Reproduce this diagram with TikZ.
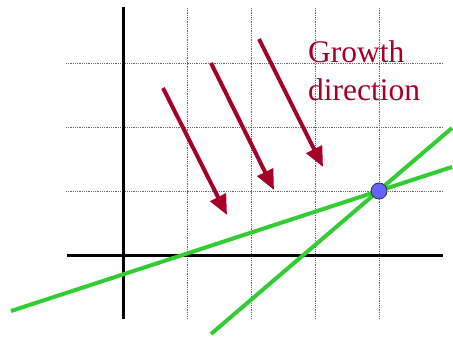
\documentclass[tikz,border=0pt]{standalone}
\usepackage{fontspec}
\setmainfont{Liberation Serif}
\usetikzlibrary{arrows.meta}
\definecolor{dred}{RGB}{166,0,38}
\definecolor{lgreen}{RGB}{50,205,50}
\definecolor{dotblue}{RGB}{100,100,255}
\tikzset{
  axis/.style={line width=3pt,black},
  gridl/.style={line width=0.8pt,densely dotted,gray!80!black},
  gline/.style={line width=4pt,lgreen},
  garrow/.style={line width=4pt,dred,-{Triangle[length=20pt,width=17pt]}},
}
\begin{document}
\begin{tikzpicture}[x=1pt,y=-1pt]
\useasboundingbox (0,0) rectangle (453,337);
% grid
\foreach \x in {187,251,315,379} \draw[gridl] (\x,8) -- (\x,318);
\foreach \y in {63,127,191} \draw[gridl] (66,\y) -- (443,\y);
% axes
\draw[axis] (123,7) -- (123,319);
\draw[axis] (67,255) -- (443,255);
% green lines
\coordinate (p) at (379,191);
\coordinate (a1) at (11,311);
\coordinate (a2) at (452,167);
\coordinate (b1) at (211,334);
\coordinate (b2) at (452,128);
\draw[gline] (a1) -- (a2);
\draw[gline] (b1) -- (b2);
\node[circle,draw=black!80,line width=0.8pt,fill=dotblue,minimum size=16pt,inner sep=0pt] (pt) at (p) {};
% arrows
\coordinate (s1) at (163,88);  \coordinate (e1) at (227,215);
\coordinate (s2) at (211,63);  \coordinate (e2) at (274,190);
\coordinate (s3) at (259,39);  \coordinate (e3) at (323,167);
\draw[garrow] (s1) -- (e1);
\draw[garrow] (s2) -- (e2);
\draw[garrow] (s3) -- (e3);
% text
\node[anchor=base west,inner sep=0pt,text=dred,font=\fontsize{31.5}{38}\selectfont] (t1) at (308,63) {Growth};
\node[anchor=base west,inner sep=0pt,text=dred,font=\fontsize{31.5}{38}\selectfont] (t2) at (308,101) {direction};
\end{tikzpicture}
\end{document}
